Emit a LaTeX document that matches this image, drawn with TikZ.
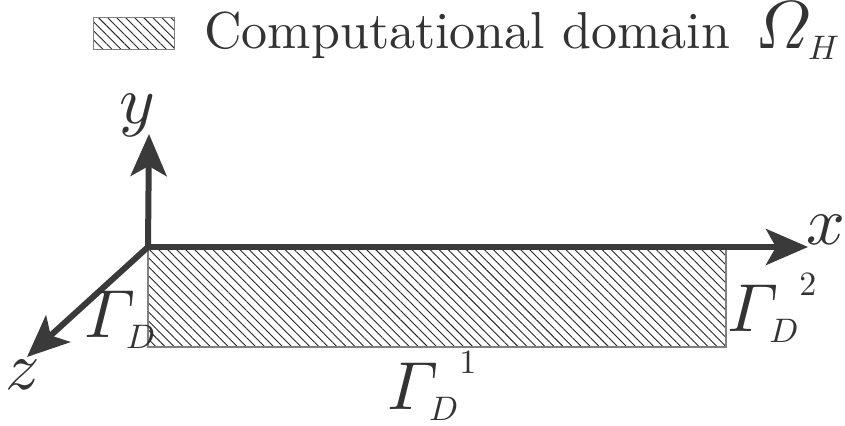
\documentclass[tikz,border=0pt]{standalone}
\usepackage{fix-cm}
\usepackage{amsmath}
\usepackage{fontspec}
\newfontfamily\legendfont{lmroman10-regular.otf}
\DeclareFontShape{OML}{cmm}{m}{it}{<->cmmi10}{}
\DeclareFontShape{OT1}{cmr}{m}{it}{<->cmti10}{}
\DeclareFontShape{OT1}{cmr}{m}{n}{<->cmr10}{}
\usetikzlibrary{arrows.meta, patterns.meta}
\definecolor{axisgray}{HTML}{3A3A3A}
\definecolor{labelgray}{HTML}{333333}

\begin{document}
\begin{tikzpicture}[
    x=0.5pt, y=-0.5pt,
    axis/.style={draw=axisgray, line width=3pt,
                 -{Stealth[length=21pt, width=18pt, inset=5pt]}},
    hatch/.style={draw=gray, line width=0.6pt,
                  pattern={Lines[angle=-45, distance=3.2pt, line width=0.45pt]},
                  pattern color=black!85},
    lbl/.style={inner sep=0pt, text=labelgray, font=\fontsize{34}{40}\selectfont},
  ]
  \useasboundingbox (0,0) rectangle (845,426);

  % Domain
  \coordinate (O) at (148,247);
  \coordinate (C) at (726,347);
  \path[hatch] (O) rectangle (C);

  % Axes
  \coordinate (xtip) at (808,247);
  \coordinate (ytip) at (149,134);
  \coordinate (ztip) at (27,357);
  \draw[axis] (O) -- (xtip);
  \draw[axis] (O) -- (ytip);
  \draw[axis] (O) -- (ztip);

  % Axis labels
  \node[lbl, anchor=base] (ylab) at (137,124) {$y$};
  \node[lbl, anchor=base] (xlab) at (826,245) {$x$};
  \node[lbl, anchor=base] (zlab) at (23,390) {$z$};

  % Boundary labels
  \node[lbl, anchor=base west] (gleft) at (84,338)
       {$\varGamma_{\scriptscriptstyle D}$};
  \node[lbl, anchor=base west] (gright) at (727,332)
       {${\varGamma_{\scriptscriptstyle D}}^{\raisebox{4pt}{$\scriptscriptstyle 2$}}$};
  \node[lbl, anchor=base west] (gbottom) at (387,410)
       {${\varGamma_{\scriptscriptstyle D}}^{\raisebox{4pt}{$\scriptscriptstyle 1$}}$};

  % Legend
  \node[hatch, minimum width=40.5pt, minimum height=16pt, inner sep=0pt,
        anchor=north west] (legbox) at (93,17) {};
  \node[anchor=base west, inner sep=0pt, text=labelgray,
        font=\fontsize{26}{30}\legendfont] (legtext) at (204,49)
       {Computational domain\hspace{4pt}
        {\fontsize{34}{40}\selectfont$\varOmega_{\scriptscriptstyle H}$}};
\end{tikzpicture}
\end{document}
